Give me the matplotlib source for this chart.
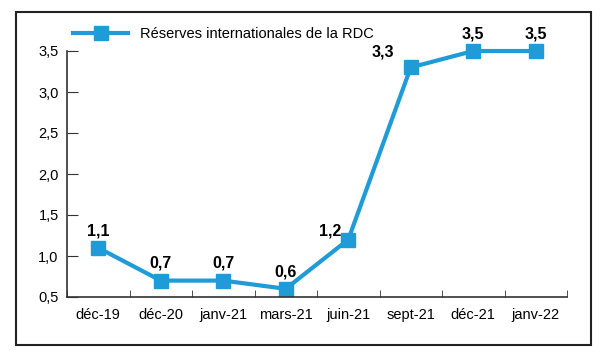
import matplotlib.pyplot as plt
from matplotlib.patches import Rectangle
from matplotlib.ticker import FuncFormatter

periodes = ['déc-19', 'déc-20', 'janv-21', 'mars-21', 'juin-21', 'sept-21', 'déc-21', 'janv-22']
reserves = [1.1, 0.7, 0.7, 0.6, 1.2, 3.3, 3.5, 3.5]
yticks = [0.5, 1.0, 1.5, 2.0, 2.5, 3.0, 3.5]

plt.rcParams['font.family'] = ['Liberation Sans', 'DejaVu Sans']
bleu = '#1f9bd7'

fig = plt.figure(figsize=(6, 3.55), dpi=100)
ax = fig.add_axes([67 / 600, 1 - 297 / 355, 500 / 600, 246 / 355])

x = list(range(len(periodes)))
ax.plot(x, reserves, color=bleu, lw=3, marker='s', ms=10.5, clip_on=False,
        label='Réserves internationales de la RDC')

# étiquettes de valeurs
decalage = {4: (-13, 1), 5: (-20, 6)}
for i, v in enumerate(reserves):
    dx, dy = decalage.get(i, (0, 7))
    ax.annotate(f'{v:.1f}'.replace('.', ','), (i, v), xytext=(dx, dy), textcoords='offset points',
                ha='center', va='bottom', fontsize=11.5, fontweight='bold')

ax.set_xlim(-0.5, len(periodes) - 0.5)
ax.set_ylim(0.5, 3.5)
ax.set_yticks(yticks)
ax.yaxis.set_major_formatter(FuncFormatter(lambda v, p: f'{v:.1f}'.replace('.', ',')))
ax.set_xticks(x)
ax.set_xticklabels(periodes)
ax.set_xticks([i - 0.5 for i in range(len(periodes) + 1)], minor=True)
ax.tick_params(axis='x', which='major', length=0, pad=8, labelsize=10.5)
ax.tick_params(axis='x', which='minor', direction='in', length=5, color='#333333')
ax.tick_params(axis='y', direction='in', length=8, labelsize=10.5, pad=6, color='#333333')
for s in ['top', 'right']:
    ax.spines[s].set_visible(False)
for s in ['left', 'bottom']:
    ax.spines[s].set_color('#333333')
    ax.spines[s].set_linewidth(1.2)

ax.legend(loc='upper left', bbox_to_anchor=(0.0, 1.12), frameon=False, fontsize=10.5,
          handlelength=3.8, handletextpad=0.8, borderaxespad=0)

# cadre extérieur
fig.patches.append(Rectangle((16 / 600, 1 - 345 / 355), 575 / 600, 333 / 355, transform=fig.transFigure,
                             fill=False, edgecolor='#222222', lw=1.5))

fig.savefig('out.png', dpi=100)
